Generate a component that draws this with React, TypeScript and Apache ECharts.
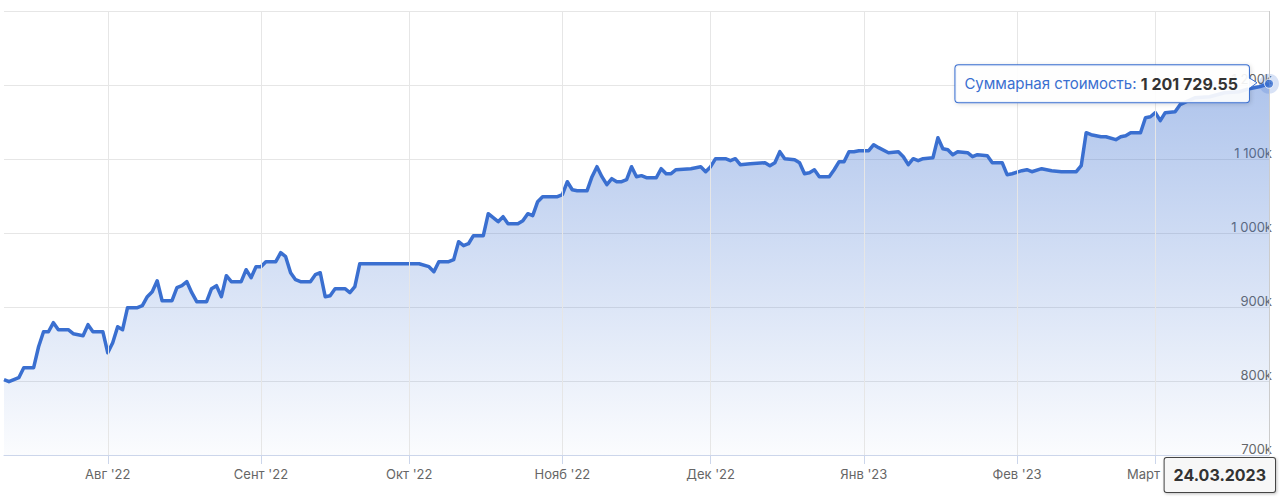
import React, { useEffect, useRef } from "react";
import * as echarts from "echarts";

const seriesName = "Суммарная стоимость";

const dates: string[] = [
  "2022-07-11", "2022-07-12", "2022-07-14", "2022-07-15", "2022-07-17", "2022-07-18", "2022-07-19", "2022-07-20",
  "2022-07-21", "2022-07-22", "2022-07-24", "2022-07-25", "2022-07-27", "2022-07-28", "2022-07-29", "2022-07-31",
  "2022-08-01", "2022-08-02", "2022-08-03", "2022-08-04", "2022-08-05", "2022-08-07", "2022-08-08", "2022-08-09",
  "2022-08-10", "2022-08-11", "2022-08-12", "2022-08-14", "2022-08-15", "2022-08-16", "2022-08-17", "2022-08-18",
  "2022-08-19", "2022-08-21", "2022-08-22", "2022-08-23", "2022-08-24", "2022-08-25", "2022-08-26", "2022-08-28",
  "2022-08-29", "2022-08-30", "2022-08-31", "2022-09-01", "2022-09-02", "2022-09-04", "2022-09-05", "2022-09-06",
  "2022-09-07", "2022-09-08", "2022-09-09", "2022-09-11", "2022-09-12", "2022-09-13", "2022-09-14", "2022-09-15",
  "2022-09-16", "2022-09-18", "2022-09-19", "2022-09-20", "2022-09-21", "2022-10-03", "2022-10-05", "2022-10-06",
  "2022-10-07", "2022-10-09", "2022-10-10", "2022-10-11", "2022-10-12", "2022-10-13", "2022-10-14", "2022-10-16",
  "2022-10-17", "2022-10-18", "2022-10-19", "2022-10-20", "2022-10-21", "2022-10-23", "2022-10-24", "2022-10-25",
  "2022-10-26", "2022-10-27", "2022-10-28", "2022-10-31", "2022-11-01", "2022-11-02", "2022-11-03", "2022-11-04",
  "2022-11-06", "2022-11-07", "2022-11-08", "2022-11-09", "2022-11-10", "2022-11-11", "2022-11-12", "2022-11-13",
  "2022-11-14", "2022-11-15", "2022-11-16", "2022-11-17", "2022-11-18", "2022-11-20", "2022-11-21", "2022-11-22",
  "2022-11-23", "2022-11-24", "2022-11-27", "2022-11-29", "2022-11-30", "2022-12-01", "2022-12-02", "2022-12-04",
  "2022-12-05", "2022-12-06", "2022-12-07", "2022-12-09", "2022-12-12", "2022-12-13", "2022-12-14", "2022-12-15",
  "2022-12-16", "2022-12-18", "2022-12-19", "2022-12-20", "2022-12-21", "2022-12-22", "2022-12-23", "2022-12-25",
  "2022-12-26", "2022-12-27", "2022-12-28", "2022-12-29", "2022-12-30", "2022-12-31", "2023-01-02", "2023-01-03",
  "2023-01-04", "2023-01-06", "2023-01-08", "2023-01-09", "2023-01-10", "2023-01-11", "2023-01-12", "2023-01-13",
  "2023-01-15", "2023-01-16", "2023-01-17", "2023-01-18", "2023-01-19", "2023-01-20", "2023-01-22", "2023-01-23",
  "2023-01-24", "2023-01-26", "2023-01-27", "2023-01-29", "2023-01-30", "2023-01-31", "2023-02-02", "2023-02-03",
  "2023-02-04", "2023-02-06", "2023-02-08", "2023-02-10", "2023-02-13", "2023-02-14", "2023-02-15", "2023-02-16",
  "2023-02-18", "2023-02-19", "2023-02-21", "2023-02-22", "2023-02-23", "2023-02-24", "2023-02-26", "2023-02-27",
  "2023-02-28", "2023-03-01", "2023-03-02", "2023-03-03", "2023-03-05", "2023-03-06", "2023-03-09", "2023-03-12",
  "2023-03-15", "2023-03-18", "2023-03-20", "2023-03-22", "2023-03-24",
];

const values: number[] = [
  801700, 799000, 804400, 818000, 818000, 846300, 866600, 866600,
  878800, 869300, 869300, 863900, 861200, 876100, 866600, 866600,
  838200, 851800, 873400, 869300, 899100, 899100, 901800, 913900,
  920700, 935500, 908500, 908500, 926100, 928800, 934200, 919300,
  907200, 907200, 924700, 928800, 913900, 942300, 934200, 934200,
  950400, 939600, 954500, 954500, 961200, 961200, 973400, 968000,
  946300, 936900, 934200, 934200, 943600, 946300, 913900, 915300,
  924700, 924700, 919300, 927400, 958500, 958500, 954500, 947700,
  961200, 961200, 963900, 988200, 982800, 985500, 996400, 996400,
  1026100, 1020700, 1015300, 1022000, 1012600, 1012600, 1016600, 1026100,
  1023400, 1042300, 1049100, 1049100, 1051800, 1069300, 1058500, 1057200,
  1057200, 1076100, 1089600, 1076100, 1065300, 1073400, 1069300, 1069300,
  1072000, 1089600, 1076100, 1077500, 1074700, 1074700, 1086900, 1080200,
  1080200, 1085500, 1086900, 1089600, 1082800, 1089600, 1100400, 1100400,
  1097700, 1100400, 1092300, 1093600, 1095000, 1090900, 1095000, 1109900,
  1100400, 1099100, 1095000, 1080100, 1081500, 1085500, 1076100, 1076100,
  1085500, 1096400, 1096400, 1109900, 1109900, 1111200, 1111200, 1119300,
  1115300, 1108500, 1109900, 1103100, 1092300, 1100400, 1097700, 1100400,
  1101800, 1128800, 1113900, 1112500, 1105800, 1109900, 1108500, 1103100,
  1105800, 1104500, 1095000, 1095000, 1078800, 1080100, 1084200, 1085500,
  1082800, 1086900, 1084200, 1082800, 1082800, 1090900, 1135500, 1132800,
  1130100, 1130100, 1126100, 1130100, 1131500, 1135500, 1135500, 1155800,
  1157100, 1162600, 1151800, 1162600, 1163900, 1173400, 1182800, 1184200,
  1189600, 1190900, 1195000, 1197700, 1201729.55,
];

const monthTicks: string[] = [
  "2022-08-01", "2022-09-01", "2022-10-01", "2022-11-01",
  "2022-12-01", "2023-01-01", "2023-02-01", "2023-03-01",
];

const monthNames: string[] = [
  "Янв", "Фев", "Март", "Апр", "Май", "Июнь", "Июль", "Авг", "Сент", "Окт", "Нояб", "Дек",
];

const yMin = 700000;
const yMax = 1300000;
const yStep = 100000;

const DAY = 86400000;
const FONT = 'Inter, "Noto Sans", "DejaVu Sans", sans-serif';
const BLUE = "#3a6fd0";

function ts(s: string): number {
  const [y, m, d] = s.split("-").map(Number);
  return new Date(y, m - 1, d).getTime();
}

function groupThousands(n: number): string {
  return String(n).replace(/\B(?=(\d{3})+(?!\d))/g, " ");
}

function fmtValue(v: number): string {
  const fixed = v.toFixed(2);
  const [i, f] = fixed.split(".");
  return groupThousands(Number(i)) + "." + f;
}

function fmtDate(s: string): string {
  const [y, m, d] = s.split("-");
  return `${d}.${m}.${y}`;
}

export default function App() {
  const ref = useRef<HTMLDivElement>(null);

  useEffect(() => {
    if (!ref.current) return;
    const chart = echarts.init(ref.current, undefined, { renderer: "svg" });
    const data = dates.map((d, i) => [ts(d), values[i]]);
    const monthTs = monthTicks.map(ts);
    const last = data[data.length - 1];

    chart.setOption({
      animation: false,
      backgroundColor: "#ffffff",
      textStyle: { fontFamily: FONT },
      grid: { left: 4, right: 11, top: 11, bottom: 48, containLabel: false },
      xAxis: {
        type: "time",
        min: ts(dates[0]),
        max: ts(dates[dates.length - 1]),
        minInterval: 28 * DAY,
        maxInterval: 31 * DAY,
        axisLine: { show: true, lineStyle: { color: "#ccd6eb", width: 1 } },
        axisTick: { show: true, length: 9, lineStyle: { color: "#ccd6eb" }, customValues: monthTs },
        axisLabel: {
          showMinLabel: false,
          showMaxLabel: false,
          color: "#666666",
          fontSize: 13,
          fontFamily: FONT,
          margin: 12,
          formatter: (v: number) => {
            const d = new Date(v);
            return monthNames[d.getMonth()] + " '" + String(d.getFullYear()).slice(2);
          },
        },
        splitLine: { show: false },
      },
      yAxis: {
        type: "value",
        position: "right",
        min: yMin,
        max: yMax,
        interval: yStep,
        axisLine: { show: false },
        axisTick: { show: false },
        axisLabel: {
          inside: true,
          margin: -3,
          verticalAlign: "bottom",
          color: "#666666",
          fontSize: 13,
          fontFamily: FONT,
          formatter: (v: number) => (v >= yMax ? "" : groupThousands(Math.round(v / 1000)) + "k"),
        },
        splitLine: { show: true, lineStyle: { color: "#e6e6e6", width: 1 } },
      },
      series: [
        {
          type: "line",
          data: [],
          z: 1,
          silent: true,
          markLine: {
            silent: true,
            symbol: ["none", "none"],
            label: { show: false },
            lineStyle: { color: "#e6e6e6", width: 1, type: "solid" },
            data: monthTs.map((t) => ({ xAxis: t })),
          },
        },
        {
          name: seriesName,
          type: "line",
          data,
          showSymbol: false,
          symbol: "none",
          z: 3,
          lineStyle: { color: BLUE, width: 3.5, join: "round" },
          areaStyle: {
            color: new echarts.graphic.LinearGradient(0, 0, 0, 1, [
              { offset: 0, color: "rgba(58,111,208,0.58)" },
              { offset: 1, color: "rgba(58,111,208,0.03)" },
            ]),
          },
          markLine: {
            silent: true,
            symbol: ["none", "none"],
            label: { show: false },
            lineStyle: { color: "#cccccc", width: 1, type: "solid" },
            data: [{ xAxis: last[0] }],
          },
        },
        {
          type: "scatter",
          data: [last],
          symbolSize: 20,
          itemStyle: { color: "rgba(58,111,208,0.25)" },
          z: 4,
          silent: true,
        },
        {
          type: "scatter",
          data: [last],
          symbolSize: 9,
          itemStyle: { color: BLUE, borderColor: "#ffffff", borderWidth: 1 },
          z: 5,
          silent: true,
        },
      ],
    });

    const [px, py] = chart.convertToPixel({ seriesIndex: 1 }, last) as number[];
    const axisY = chart.convertToPixel({ yAxisIndex: 0 }, yMin) as number;
    const boxRight = px - 20;

    chart.setOption({
      graphic: [
        {
          type: "text",
          z: 100,
          x: boxRight,
          y: py,
          style: {
            text: `{a|${seriesName}: }{b|${fmtValue(last[1] as number)}}`,
            align: "right",
            verticalAlign: "middle",
            backgroundColor: "rgba(255,255,255,0.9)",
            borderColor: BLUE,
            borderWidth: 1,
            borderRadius: 3,
            padding: [10, 11, 10, 9],
            shadowBlur: 4,
            shadowColor: "rgba(0,0,0,0.15)",
            shadowOffsetX: 1,
            shadowOffsetY: 1,
            rich: {
              a: { fill: BLUE, fontSize: 15, fontFamily: FONT, lineHeight: 17 },
              b: { fill: "#333333", fontSize: 16, fontWeight: "bold", fontFamily: FONT, lineHeight: 17 },
            },
          },
        },
        {
          type: "polygon",
          z: 101,
          shape: { points: [[boxRight - 1, py - 6], [boxRight + 8, py - 1], [boxRight - 1, py + 5]] },
          style: { fill: "rgba(255,255,255,0.95)", stroke: "none" },
        },
        {
          type: "polyline",
          z: 102,
          shape: { points: [[boxRight, py - 6], [boxRight + 8, py - 1], [boxRight, py + 5]] },
          style: { stroke: BLUE, lineWidth: 1, fill: "none" },
        },
        {
          type: "text",
          z: 100,
          x: px + 6,
          y: axisY + 3,
          style: {
            text: fmtDate(dates[dates.length - 1]),
            align: "right",
            verticalAlign: "top",
            fill: "#333333",
            font: `bold 16px ${FONT}`,
            lineHeight: 18,
            backgroundColor: "#f7f7f7",
            borderColor: "#444444",
            borderWidth: 1,
            borderRadius: 2,
            padding: [8, 9, 8, 9],
            shadowBlur: 3,
            shadowColor: "rgba(0,0,0,0.25)",
            shadowOffsetX: 1,
            shadowOffsetY: 1,
          },
        },
      ],
    });

    return () => chart.dispose();
  }, []);

  return (
    <div
      ref={ref}
      style={{ position: "absolute", left: 0, top: 0, width: 1280, height: 503 }}
    />
  );
}
